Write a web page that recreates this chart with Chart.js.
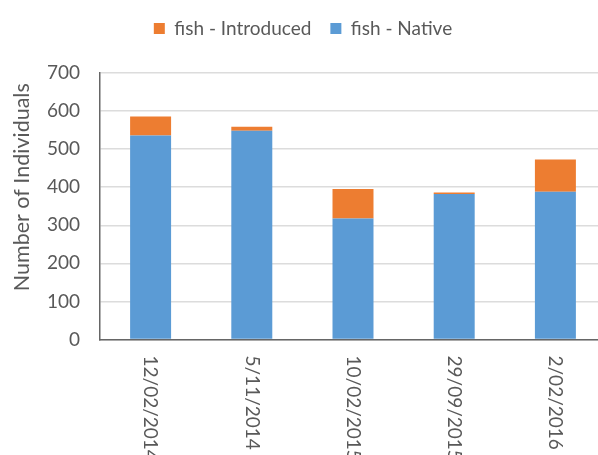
<!DOCTYPE html>
<html>
<head>
<meta charset="utf-8">
<script src="https://cdn.jsdelivr.net/npm/chart.js@4"></script>
<style>
  html, body { margin: 0; padding: 0; background: #fff; overflow: hidden; }
  #wrap { width: 598px; height: 455px; overflow: hidden; position: relative; }
  #box { width: 612px; height: 480px; position: absolute; left: 0; top: 0; }
</style>
</head>
<body>
<div id="wrap"><div id="box"><canvas id="chart"></canvas></div></div>
<script>
/* sampling dates and counts per origin */
var dates = ["12/02/2014", "5/11/2014", "10/02/2015", "29/09/2015", "2/02/2016"];
var native = [536, 548, 318, 382, 388];
var introduced = [50, 11, 77, 4, 85];
var yTicks = [0, 100, 200, 300, 400, 500, 600, 700];
var yTitle = "Number of Individuals";

var FONT = "Lato, 'Noto Sans', sans-serif";
var TEXT = "#595959";

Chart.defaults.font.family = FONT;
Chart.defaults.color = TEXT;

/* x labels read top-to-bottom (Chart.js rotation can't do that),
   y title sits a bit above the middle of the axis like in Excel */
var axisText = {
  id: "axisText",
  afterDraw: function (chart) {
    var x = chart.scales.x;
    var y = chart.scales.y;
    var ctx = chart.ctx;
    ctx.save();
    ctx.fillStyle = TEXT;
    ctx.font = "19px " + FONT;
    ctx.textAlign = "left";
    ctx.textBaseline = "middle";
    x.ticks.forEach(function (t, i) {
      ctx.save();
      ctx.translate(x.getPixelForTick(i), x.top + 16);
      ctx.rotate(Math.PI / 2);
      ctx.fillText(dates[i], 0, 0);
      ctx.restore();
    });

    ctx.font = "21.5px " + FONT;
    ctx.textAlign = "center";
    ctx.translate(22, (y.top + y.bottom) / 2 - 19);
    ctx.rotate(-Math.PI / 2);
    ctx.fillText(yTitle, 0, 0);
    ctx.restore();
  }
};

new Chart(document.getElementById("chart"), {
  type: "bar",
  data: {
    labels: dates,
    datasets: [
      { label: "fish - Native", data: native, backgroundColor: "#5B9BD5" },
      { label: "fish - Introduced", data: introduced, backgroundColor: "#ED7D31" }
    ]
  },
  options: {
    responsive: true,
    maintainAspectRatio: false,
    animation: false,
    categoryPercentage: 1,
    barPercentage: 0.405,
    layout: { padding: { left: 0, right: 6, top: 0, bottom: 132.5 } },
    plugins: {
      tooltip: { enabled: false },
      legend: {
        display: true,
        position: "top",
        reverse: true,
        labels: {
          boxWidth: 11,
          boxHeight: 11,
          padding: 19,
          color: TEXT,
          font: { size: 19 }
        }
      },
      // empty spacer between legend and plot
      subtitle: {
        display: true,
        text: "",
        weight: 500,
        font: { size: 10, lineHeight: 1 },
        padding: { top: 0, bottom: 15 }
      }
    },
    scales: {
      x: {
        stacked: true,
        grid: { display: false },
        border: { color: "#666", width: 1.5 },
        ticks: { display: false }
      },
      y: {
        stacked: true,
        min: 0,
        max: 700,
        afterBuildTicks: function (s) { s.ticks = yTicks.map(function (v) { return { value: v }; }); },
        afterFit: function (s) { s.width = 100; },
        grid: { color: "#dcdcdc", lineWidth: 1.5, drawTicks: false },
        border: { color: "#666", width: 1.5 },
        ticks: { padding: 20, font: { size: 19 }, color: TEXT }
      }
    }
  },
  plugins: [axisText]
});
</script>
</body>
</html>
